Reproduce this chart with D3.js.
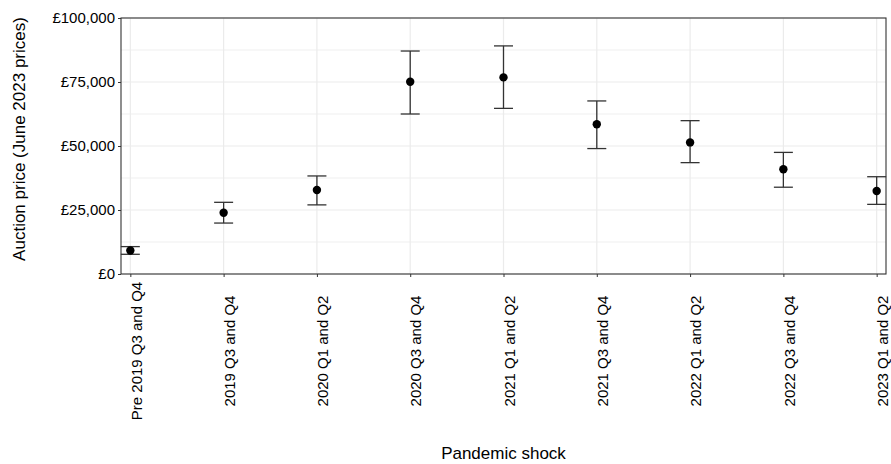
<!DOCTYPE html>
<html><head><meta charset="utf-8">
<script src="https://cdn.jsdelivr.net/npm/d3@7"></script>
<style>body{margin:0;background:#fff}svg{display:block}text{font-family:"Liberation Sans",Arial,sans-serif;fill:#000}</style>
</head><body>
<svg id="c" width="891" height="464"></svg>
<script>
const categories = ["Pre 2019 Q3 and Q4","2019 Q3 and Q4","2020 Q1 and Q2","2020 Q3 and Q4","2021 Q1 and Q2","2021 Q3 and Q4","2022 Q1 and Q2","2022 Q3 and Q4","2023 Q1 and Q2"];
const meanPrice = [9200, 23900, 32800, 75100, 76800, 58500, 51400, 40900, 32400];
const lowerCI = [7700, 19900, 27000, 62500, 64700, 49000, 43500, 33900, 27200];
const upperCI = [10700, 28000, 38300, 87100, 89100, 67600, 59900, 47500, 38000];
const yTicks = [0, 25000, 50000, 75000, 100000];
const yMinor = [12500, 37500, 62500, 87500];

const L = 121, R = 886, T = 18, B = 274;
const svg = d3.select("#c");
const x = d3.scalePoint().domain(categories).range([L, R]).padding(0.1);
const y = d3.scaleLinear().domain([0, 100000]).range([B, T]);

const g = svg.append("g");
// grid
g.selectAll(".ymin").data(yMinor).join("line")
  .attr("x1", L).attr("x2", R).attr("y1", d => y(d)).attr("y2", d => y(d))
  .attr("stroke", "#ebebeb").attr("stroke-width", 0.8);
g.selectAll(".ymaj").data(yTicks).join("line")
  .attr("x1", L).attr("x2", R).attr("y1", d => y(d)).attr("y2", d => y(d))
  .attr("stroke", "#ebebeb").attr("stroke-width", 1.2);
g.selectAll(".xg").data(categories).join("line")
  .attr("x1", d => x(d)).attr("x2", d => x(d)).attr("y1", T).attr("y2", B)
  .attr("stroke", "#ebebeb").attr("stroke-width", 1.2);

// border
svg.append("rect").attr("x", L).attr("y", T).attr("width", R - L).attr("height", B - T)
  .attr("fill", "none").attr("stroke", "#333").attr("stroke-width", 1.1);

// axes
const ya = svg.append("g").attr("transform", `translate(${L},0)`)
  .call(d3.axisLeft(y).tickValues(yTicks).tickSize(3).tickPadding(3)
    .tickFormat(d => "£" + d3.format(",")(d)));
ya.select(".domain").remove();
ya.selectAll("line").attr("stroke", "#333");
ya.selectAll("text").attr("font-size", 15).attr("fill", "#000");

const xa = svg.append("g").attr("transform", `translate(0,${B})`)
  .call(d3.axisBottom(x).tickSize(3).tickFormat(""));
xa.select(".domain").remove();
xa.selectAll("line").attr("stroke", "#333");
svg.selectAll(".xl").data(categories).join("text")
  .attr("transform", d => `translate(${x(d) + 6},351) rotate(-90)`)
  .attr("text-anchor", "middle").attr("dy", "0.35em")
  .attr("font-size", 15).text(d => d);

// error bars
const data = categories.map((c, i) => ({c, m: meanPrice[i], lo: lowerCI[i], hi: upperCI[i]}));
const eb = svg.append("g").attr("stroke", "#333").attr("stroke-width", 1.3);
eb.selectAll(".v").data(data).join("line")
  .attr("x1", d => x(d.c)).attr("x2", d => x(d.c)).attr("y1", d => y(d.lo)).attr("y2", d => y(d.hi));
eb.selectAll(".t").data(data).join("line")
  .attr("x1", d => x(d.c) - 9.5).attr("x2", d => x(d.c) + 9.5).attr("y1", d => y(d.hi)).attr("y2", d => y(d.hi));
eb.selectAll(".b").data(data).join("line")
  .attr("x1", d => x(d.c) - 9.5).attr("x2", d => x(d.c) + 9.5).attr("y1", d => y(d.lo)).attr("y2", d => y(d.lo));
svg.selectAll(".pt").data(data).join("circle")
  .attr("cx", d => x(d.c)).attr("cy", d => y(d.m)).attr("r", 4.2).attr("fill", "#000");

// titles
svg.append("text").attr("transform", "translate(25,139) rotate(-90)")
  .attr("text-anchor", "middle").attr("font-size", 17).text("Auction price (June 2023 prices)");
svg.append("text").attr("x", 503.5).attr("y", 459)
  .attr("text-anchor", "middle").attr("font-size", 17).text("Pandemic shock");
</script>
</body></html>
